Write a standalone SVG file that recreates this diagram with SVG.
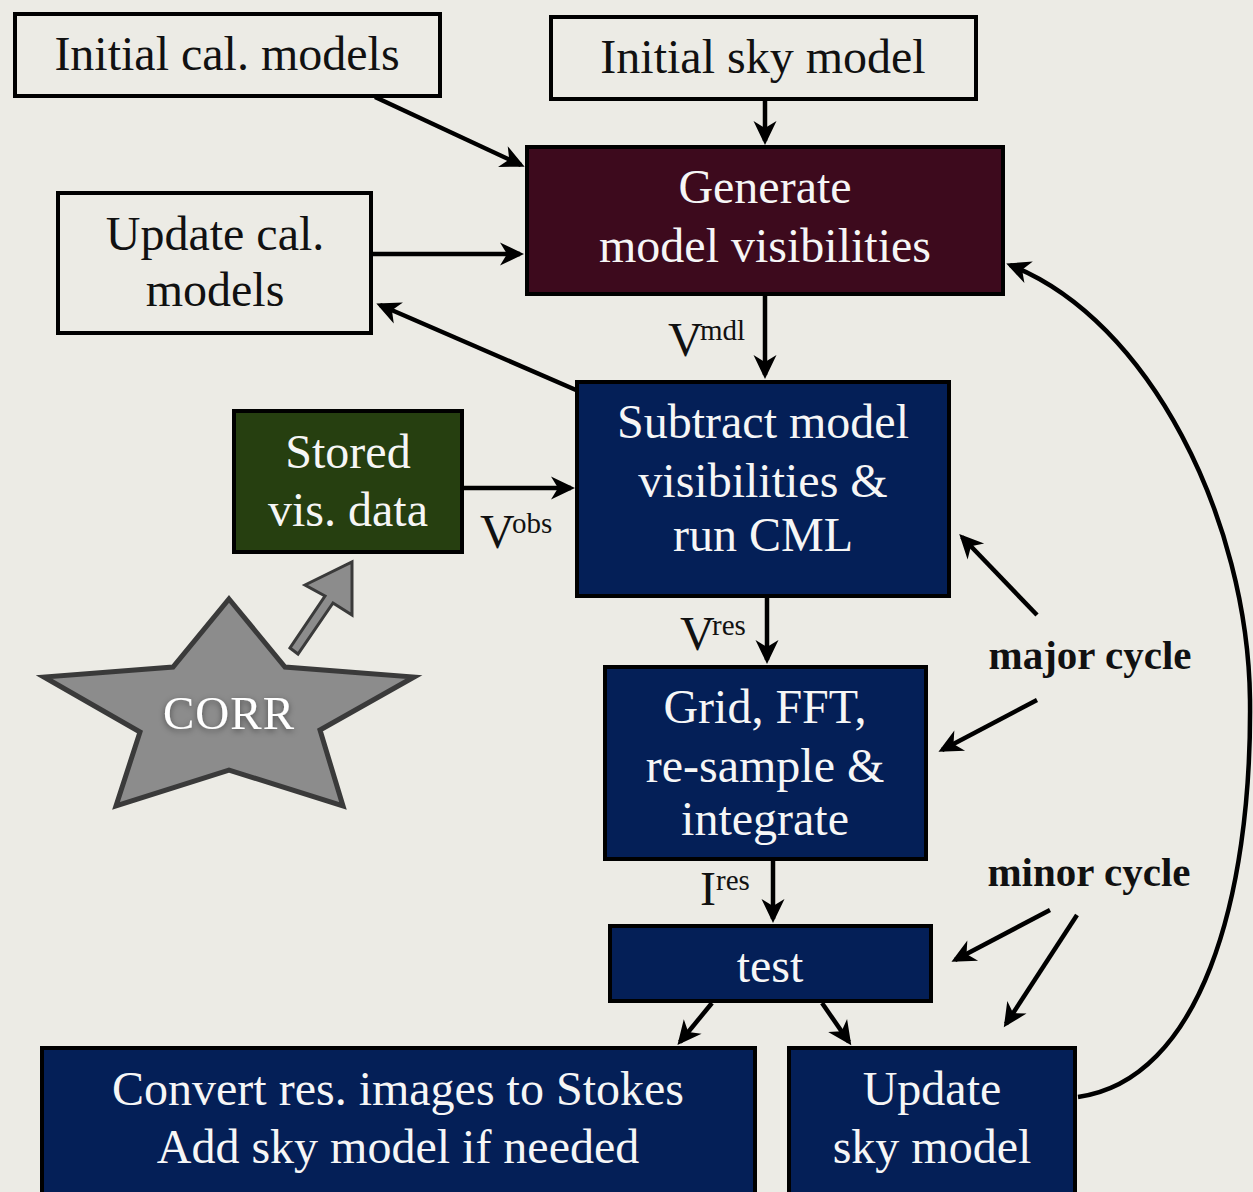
<svg xmlns="http://www.w3.org/2000/svg" width="1253" height="1192" viewBox="0 0 1253 1192">
  <style>
    text { font-family: "Liberation Serif", "DejaVu Serif", serif; text-anchor: middle; }
    .lbl { font-size: 48px; fill: #111; }
    .wt { font-size: 48px; fill: #f6f6f6; }
    .plain { fill: none; stroke: #000; stroke-width: 4; }
    .maroon { fill: #3d0a1d; stroke: #000; stroke-width: 4; }
    .navy { fill: #041f57; stroke: #000; stroke-width: 4; }
    .green { fill: #263f10; stroke: #000; stroke-width: 4; }
    .edge { fill: none; stroke: #000; stroke-width: 4.5; marker-end: url(#ah); }
    .cyc { font-size: 41px; font-weight: bold; fill: #111; }
    .sym { font-size: 48px; fill: #111; text-anchor: start; }
    .sup { font-size: 29px; fill: #111; text-anchor: start; }
  </style>
  <defs>
    <marker id="ah" viewBox="-26 -13 28 26" refX="-4" refY="0" markerWidth="28" markerHeight="26" markerUnits="userSpaceOnUse" orient="auto">
      <path d="M0,0 L-24,-11.5 L-17,0 L-24,11.5 Z" fill="#000"/>
    </marker>
    <filter id="glow" x="-20%" y="-40%" width="140%" height="180%">
      <feDropShadow dx="0" dy="2" stdDeviation="3" flood-color="#000" flood-opacity="0.45"/>
    </filter>
  </defs>

  <rect width="1253" height="1192" fill="#ecebe5"/>

  <!-- connectors -->
  <g id="connectors">
    <line class="edge" x1="375" y1="97" x2="521" y2="165"/>
    <line class="edge" x1="765" y1="100" x2="765" y2="141"/>
    <line class="edge" x1="372" y1="254" x2="520" y2="254"/>
    <line class="edge" x1="576" y1="390" x2="380" y2="305"/>
    <line class="edge" x1="765" y1="295" x2="765" y2="375"/>
    <line class="edge" x1="463" y1="488" x2="571" y2="488"/>
    <line class="edge" x1="767" y1="597" x2="767" y2="660"/>
    <line class="edge" x1="773" y1="860" x2="773" y2="919"/>
    <line class="edge" x1="712" y1="1003" x2="680" y2="1042"/>
    <line class="edge" x1="822" y1="1003" x2="849" y2="1042"/>
    <line class="edge" x1="1037" y1="615" x2="962" y2="537"/>
    <line class="edge" x1="1037" y1="700" x2="942" y2="750"/>
    <line class="edge" x1="1050" y1="910" x2="955" y2="960"/>
    <line class="edge" x1="1077" y1="915" x2="1006" y2="1024"/>
    <path class="edge" d="M1078,1097 C1200,1080 1252,900 1250,700 C1248,520 1150,320 1010,265"/>
    <!-- Vmdl -->
    <text class="sym" x="668" y="356">V</text><text class="sup" x="700" y="340">mdl</text>
    <!-- Vobs -->
    <text class="sym" x="480" y="548">V</text><text class="sup" x="512" y="533">obs</text>
    <!-- Vres -->
    <text class="sym" x="680" y="650">V</text><text class="sup" x="712" y="635">res</text>
    <!-- Ires -->
    <text class="sym" x="700" y="905">I</text><text class="sup" x="716" y="890">res</text>
  </g>

  <text class="cyc" x="1090" y="669">major cycle</text>
  <text class="cyc" x="1089" y="886">minor cycle</text>

  <g id="initial-cal">
    <rect class="plain" x="15" y="14" width="425" height="82"/>
    <text class="lbl" x="227" y="70">Initial cal. models</text>
  </g>
  <g id="initial-sky">
    <rect class="plain" x="551" y="17" width="425" height="82"/>
    <text class="lbl" x="763" y="73">Initial sky model</text>
  </g>
  <g id="generate">
    <rect class="maroon" x="527" y="147" width="476" height="147"/>
    <text class="wt" x="765" y="203">Generate</text>
    <text class="wt" x="765" y="262">model visibilities</text>
  </g>
  <g id="update-cal">
    <rect class="plain" x="58" y="193" width="313" height="140"/>
    <text class="lbl" x="215" y="250">Update cal.</text>
    <text class="lbl" x="215" y="306">models</text>
  </g>
  <g id="subtract">
    <rect class="navy" x="577" y="382" width="372" height="214"/>
    <text class="wt" x="763" y="438">Subtract model</text>
    <text class="wt" x="763" y="497">visibilities &amp;</text>
    <text class="wt" x="763" y="551">run CML</text>
  </g>
  <g id="stored">
    <rect class="green" x="234" y="411" width="228" height="141"/>
    <text class="wt" x="348" y="468">Stored</text>
    <text class="wt" x="348" y="526">vis. data</text>
  </g>
  <g id="grid">
    <rect class="navy" x="605" y="667" width="321" height="192"/>
    <text class="wt" x="765" y="723">Grid, FFT,</text>
    <text class="wt" x="765" y="782">re-sample &amp;</text>
    <text class="wt" x="765" y="835">integrate</text>
  </g>
  <g id="test">
    <rect class="navy" x="610" y="926" width="321" height="75"/>
    <text class="wt" x="770" y="982">test</text>
  </g>
  <g id="convert">
    <rect class="navy" x="42" y="1048" width="713" height="150"/>
    <text class="wt" x="398" y="1105">Convert res. images to Stokes</text>
    <text class="wt" x="398" y="1163">Add sky model if needed</text>
  </g>
  <g id="update-sky">
    <rect class="navy" x="789" y="1048" width="286" height="150"/>
    <text class="wt" x="932" y="1105">Update</text>
    <text class="wt" x="932" y="1163">sky model</text>
  </g>

  <g id="corr">
    <polygon points="229,599 285,667 414,677 320,730 343,806 229,770 116,806 140,732 44,677 173,667" fill="#8c8c8c" stroke="#3a3a3a" stroke-width="5" stroke-linejoin="miter"/>
    <text x="229" y="729" font-size="47" fill="#ffffff" letter-spacing="1" filter="url(#glow)">CORR</text>
    <polygon points="290,648 298,654 333,603 352,615 352,562 305,585 325,596" fill="#8c8c8c" stroke="#3a3a3a" stroke-width="3" stroke-linejoin="miter"/>
  </g>
</svg>
